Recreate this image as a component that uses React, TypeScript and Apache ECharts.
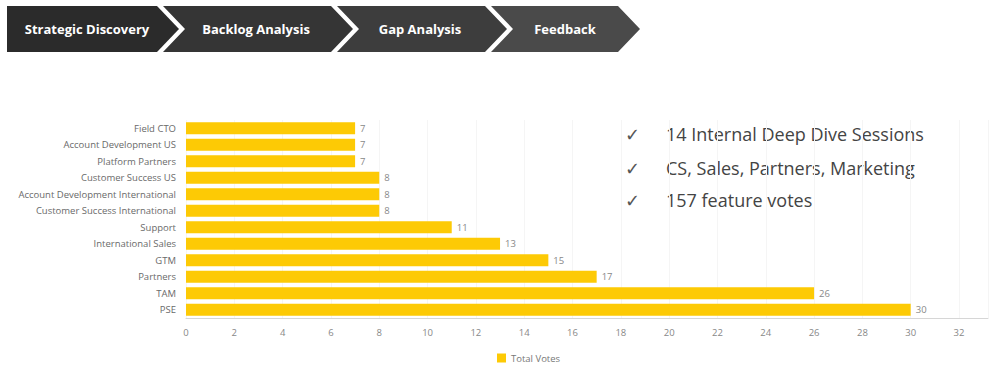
import React, { useEffect, useRef } from "react";
import * as echarts from "echarts";

const categories = [
  "Field CTO",
  "Account Development US",
  "Platform Partners",
  "Customer Success US",
  "Account Development International",
  "Customer Success International",
  "Support",
  "International Sales",
  "GTM",
  "Partners",
  "TAM",
  "PSE",
];
const totalVotes = [7, 7, 7, 8, 8, 8, 11, 13, 15, 17, 26, 30];
const steps = ["Strategic Discovery", "Backlog Analysis", "Gap Analysis", "Feedback"];
const stepColors = ["#2b2b2b", "#353535", "#3d3d3d", "#4a4a4a"];
const bullets = ["14 Internal Deep Dive Sessions", "CS, Sales, Partners, Marketing", "157 feature votes"];

const FONT = "'Open Sans', 'Noto Sans', sans-serif";

export default function App() {
  const ref = useRef<HTMLDivElement>(null);
  useEffect(() => {
    if (!ref.current) return;
    const chart = echarts.init(ref.current, undefined, { renderer: "svg" });

    const top = 6, bottom = 52, mid = 29, depth = 22;
    const chev = [
      { l: 7, r: 157, notch: false, cx: 87 },
      { l: 163, r: 331, notch: true, cx: 256 },
      { l: 337, r: 485, notch: true, cx: 420 },
      { l: 491, r: 618, notch: true, cx: 565 },
    ];
    const graphics: any[] = [];
    chev.forEach((c, i) => {
      const pts: number[][] = [
        [c.l, top],
        [c.r, top],
        [c.r + depth, mid],
        [c.r, bottom],
        [c.l, bottom],
      ];
      if (c.notch) pts.push([c.l + depth, mid]);
      graphics.push({
        type: "polygon",
        shape: { points: pts },
        style: { fill: stepColors[i] },
        silent: true,
      });
      graphics.push({
        type: "text",
        x: c.cx,
        y: mid,
        style: {
          text: steps[i],
          fill: "#ffffff",
          font: `bold 13px ${FONT}`,
          align: "center",
          verticalAlign: "middle",
        },
        silent: true,
      });
    });
    const by = [134, 168, 200];
    bullets.forEach((b, i) => {
      graphics.push({
        type: "text",
        x: 625,
        y: by[i],
        style: { text: "✓", fill: "#555", font: `18px 'DejaVu Sans', sans-serif`, verticalAlign: "middle" },
        silent: true,
      });
      graphics.push({
        type: "text",
        x: 666,
        y: by[i],
        style: { text: b, fill: "#444", font: `18px ${FONT}`, verticalAlign: "middle" },
        silent: true,
      });
    });

    chart.setOption({
      animation: false,
      backgroundColor: "#ffffff",
      textStyle: { fontFamily: FONT },
      grid: { left: 186, top: 120, right: 10, height: 198, containLabel: false },
      legend: {
        data: ["Total Votes"],
        left: 492,
        top: 348,
        icon: "rect",
        itemWidth: 9,
        itemHeight: 9,
        itemGap: 6,
        textStyle: { fontSize: 9.5, color: "#777", fontFamily: FONT },
      },
      xAxis: {
        type: "value",
        min: 0,
        max: 33.2,
        interval: 2,
        axisLine: { show: true, lineStyle: { color: "#d6d6d6" } },
        axisTick: { show: false },
        splitLine: { show: true, lineStyle: { color: "#f5f5f5" } },
        axisLabel: {
          fontSize: 9.5,
          color: "#888",
          margin: 9,
          fontFamily: FONT,
          showMaxLabel: false,
          formatter: (v: number) => (v > 32 ? "" : String(v)),
        },
      },
      yAxis: {
        type: "category",
        data: categories,
        inverse: true,
        axisLine: { show: false },
        axisTick: { show: false },
        splitLine: { show: false },
        axisLabel: { fontSize: 9.5, color: "#6a6a6a", margin: 10, fontFamily: FONT },
      },
      series: [
        {
          name: "Total Votes",
          type: "bar",
          data: totalVotes,
          barCategoryGap: "26%",
          itemStyle: { color: "#fdca05" },
          label: {
            show: true,
            position: "right",
            distance: 5,
            fontSize: 9.5,
            color: "#888",
            fontFamily: FONT,
          },
        },
      ],
      graphic: graphics,
    });
    return () => chart.dispose();
  }, []);
  return (
    <div
      ref={ref}
      style={{ position: "fixed", left: 0, top: 0, width: 998, height: 387, background: "#fff" }}
    />
  );
}
